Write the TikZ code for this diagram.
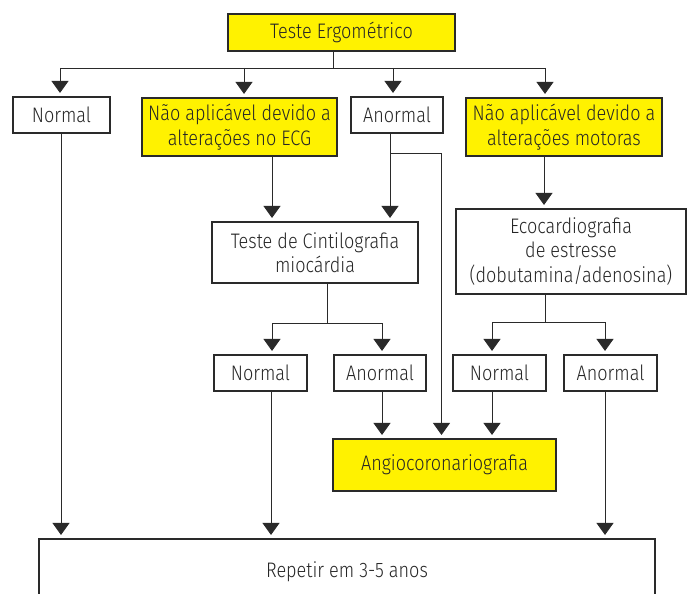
\documentclass[tikz,border=0pt]{standalone}
\usepackage{fontspec}
\setmainfont{Fira Sans Light}[FakeStretch=0.86]
\usetikzlibrary{arrows.meta}
\definecolor{boxyellow}{HTML}{FFF200}
\definecolor{linegray}{HTML}{2A2A2A}
\tikzset{
  box/.style={draw=linegray, line width=1.1pt, fill=white, inner sep=0pt, align=center,
    font=\fontsize{21}{24.5}\selectfont, text=black!85},
  ybox/.style={box, fill=boxyellow},
  conn/.style={draw=linegray, line width=0.9pt},
  arr/.style={conn, -{Triangle[width=17pt,length=12pt]}, shorten >=3.5pt},
}
\begin{document}
\begin{tikzpicture}[x=1pt,y=-1pt]
\useasboundingbox (0,0) rectangle (688,594);
\clip (0,0) rectangle (688,594);
% nodes
\node[ybox, minimum width=227pt, minimum height=37pt] (te) at (341.5,32.5) {Teste Ergométrico};
\node[box, minimum width=97pt, minimum height=36pt] (n1) at (61.5,115) {Normal};
\node[ybox, minimum width=195pt, minimum height=58pt] (ecg) at (239.5,127) {Não aplicável devido a\\alterações no ECG};
\node[box, minimum width=92pt, minimum height=36pt] (a1) at (397,115) {Anormal};
\node[ybox, minimum width=196pt, minimum height=58pt] (mot) at (564,127) {Não aplicável devido a\\alterações motoras};
\node[box, minimum width=206pt, minimum height=61pt] (cin) at (315,252.5) {Teste de Cintilografia\\miocárdia};
\node[box, minimum width=230pt, minimum height=85pt] (eco) at (571,251.5) {Ecocardiografia\\de estresse\\(dobutamina/adenosina)};
\node[box, minimum width=93pt, minimum height=36pt] (n2) at (260.5,373) {Normal};
\node[box, minimum width=92pt, minimum height=36pt] (a2) at (380,373) {Anormal};
\node[box, minimum width=93pt, minimum height=36pt] (n3) at (499.5,373) {Normal};
\node[box, minimum width=93pt, minimum height=36pt] (a3) at (610.5,373) {Anormal};
\node[ybox, minimum width=223pt, minimum height=52pt] (ang) at (444.5,465) {Angiocoronariografia};
\node[box, minimum width=616pt, minimum height=66pt] (rep) at (347,572) {Repetir em 3-5 anos};
% bus points
\coordinate (b0) at (333,68);
\coordinate (bL) at (60,68);
\coordinate (bR) at (545,68);
\coordinate (c0) at (327,323);
\coordinate (e0) at (545,322);
\coordinate (k) at (390,153);
% top tree
\draw[conn] (te.south -| b0) -- (b0);
\draw[conn] (bL) -- (bR);
\draw[arr] (bL) -- (bL |- n1.north);
\draw[arr] (244,68) -- (244,0 |- ecg.north);
\draw[arr] (393,68) -- (393,0 |- a1.north);
\draw[arr] (bR) -- (bR |- mot.north);
% Normal -> repetir
\draw[arr] (61,0 |- n1.south) -- (61,0 |- rep.north);
% ECG -> cintilografia
\draw[arr] (272,0 |- ecg.south) -- (272,0 |- cin.north);
% Anormal -> cintilografia and angio
\draw[arr] (k |- a1.south) -- (k |- cin.north);
\draw[arr] (k) -| (441.5,0 |- ang.north);
% motoras -> eco
\draw[arr] (544,0 |- mot.south) -- (544,0 |- eco.north);
% cintilografia tree
\draw[conn] (c0 |- cin.south) -- (c0);
\draw[arr] (c0) -| (272,0 |- n2.north);
\draw[arr] (c0) -| (382,0 |- a2.north);
% eco tree
\draw[conn] (e0 |- eco.south) -- (e0);
\draw[arr] (e0) -| (492,0 |- n3.north);
\draw[arr] (e0) -| (605,0 |- a3.north);
% row 4 down
\draw[arr] (271,0 |- n2.south) -- (271,0 |- rep.north);
\draw[arr] (382,0 |- a2.south) -- (382,0 |- ang.north);
\draw[arr] (492,0 |- n3.south) -- (492,0 |- ang.north);
\draw[arr] (605,0 |- a3.south) -- (605,0 |- rep.north);
\end{tikzpicture}
\end{document}
